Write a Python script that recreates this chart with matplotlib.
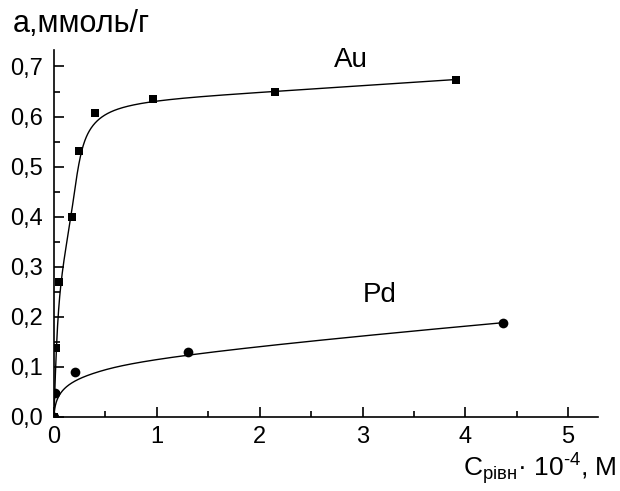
import numpy as np
import matplotlib
matplotlib.use("Agg")
import matplotlib.pyplot as plt
from matplotlib.ticker import MultipleLocator, FuncFormatter

plt.rcParams['font.family'] = ['Liberation Sans', 'DejaVu Sans']
plt.rcParams['mathtext.fontset'] = 'custom'
plt.rcParams['mathtext.rm'] = 'Liberation Sans'
plt.rcParams['mathtext.it'] = 'Liberation Sans'

# adsorption data
c_au = [0, 0.02, 0.052, 0.172, 0.246, 0.40, 0.96, 2.15, 3.91]
a_au = [0, 0.137, 0.27, 0.40, 0.532, 0.607, 0.636, 0.65, 0.674]
c_pd = [0, 0.01, 0.2, 1.3, 4.37]
a_pd = [0, 0.048, 0.09, 0.13, 0.188]


def bspline(px, py, k=3, n=600):
    # clamped B-spline using the data points as control points
    px = np.asarray(px, float)
    py = np.asarray(py, float)
    m = len(px)
    k = min(k, m - 1)
    knots = np.concatenate([np.zeros(k), np.linspace(0, 1, m - k + 1), np.ones(k)])
    t = np.linspace(0, 1, n)
    t[-1] = 1 - 1e-12
    N = np.zeros((n, len(knots) - 1))
    for i in range(len(knots) - 1):
        N[:, i] = (t >= knots[i]) & (t < knots[i + 1])
    for d in range(1, k + 1):
        Nn = np.zeros((n, len(knots) - 1 - d))
        for i in range(len(knots) - 1 - d):
            left = knots[i + d] - knots[i]
            right = knots[i + d + 1] - knots[i + 1]
            term = 0
            if left > 0:
                term = term + (t - knots[i]) / left * N[:, i]
            if right > 0:
                term = term + (knots[i + d + 1] - t) / right * N[:, i + 1]
            Nn[:, i] = term
        N = Nn
    return N @ px, N @ py


fig = plt.figure(figsize=(6.2, 4.91), dpi=100)
ax = fig.add_axes([0.0871, 0.1513, 0.8774, 0.7469])

xs, ys = bspline(c_au, a_au)
ax.plot(xs, ys, color='black', lw=1.0)
xs, ys = bspline(c_pd, a_pd)
ax.plot(xs, ys, color='black', lw=1.0)

ax.plot(c_au, a_au, 's', color='black', ms=6, mew=0)
ax.plot(c_pd, a_pd, 'o', color='black', ms=7, mew=0)

ax.set_xlim(0, 5.29)
ax.set_ylim(0, 0.733)

for s in ['top', 'right']:
    ax.spines[s].set_visible(False)
for s in ['left', 'bottom']:
    ax.spines[s].set_linewidth(1.2)

ax.xaxis.set_major_locator(MultipleLocator(1))
ax.xaxis.set_minor_locator(MultipleLocator(0.5))
ax.yaxis.set_major_locator(MultipleLocator(0.1))
ax.yaxis.set_minor_locator(MultipleLocator(0.05))
ax.xaxis.set_major_formatter(FuncFormatter(lambda v, p: '%d' % round(v)))
ax.yaxis.set_major_formatter(FuncFormatter(lambda v, p: ('%.1f' % v).replace('.', ',')))

ax.tick_params(which='both', direction='in', width=1.2, labelsize=17)
ax.tick_params(which='major', length=7)
ax.tick_params(which='minor', length=4)
ax.tick_params(axis='x', pad=7)
ax.tick_params(axis='y', pad=8)

ax.text(2.89, 0.713, 'Au', fontsize=20, ha='center', va='center')
ax.text(3.17, 0.243, 'Pd', fontsize=20, ha='center', va='center')

fig.text(0.02, 0.935, 'а,ммоль/г', fontsize=22, ha='left', va='baseline')
fig.text(0.995, 0.030, r'C$_{\mathregular{рівн}}$· 10$^{\text{-4}}$, М',
         fontsize=19, ha='right', va='baseline')

fig.savefig('out.png', dpi=100)
